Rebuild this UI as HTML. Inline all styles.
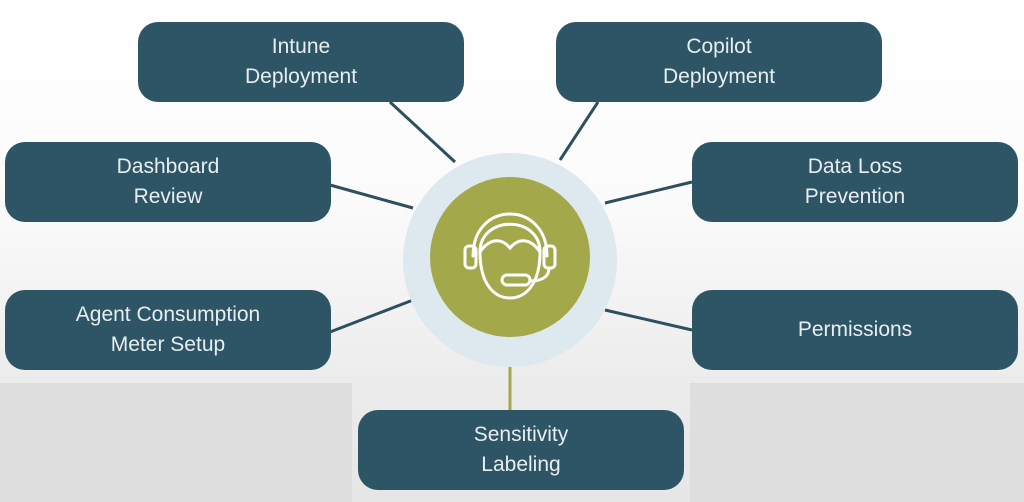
<!DOCTYPE html>
<html><head><style>
body{margin:0;width:1024px;height:502px;overflow:hidden;position:relative;font-family:"Liberation Sans",sans-serif;
background:linear-gradient(#ffffff 0px,#fbfbfb 200px,#ececec 380px,#e6e6e6 502px);}
.bg{position:absolute;top:383px;height:119px;background:#dedede}
.box{position:absolute;width:326px;height:80px;background:#2d5566;border-radius:20px;color:#e8eef0;font-size:21px;line-height:30px;display:flex;align-items:center;justify-content:center;text-align:center}
</style></head><body>
<div class="bg" style="left:0;width:352px"></div>
<div class="bg" style="left:690px;width:334px"></div>
<svg width="1024" height="502" style="position:absolute;left:0;top:0">
<g stroke="#2d4f5e" stroke-width="3">
<line x1="390" y1="102" x2="455" y2="162"/>
<line x1="598" y1="102" x2="560" y2="160"/>
<line x1="330" y1="185" x2="413" y2="208"/>
<line x1="692" y1="182" x2="605" y2="203"/>
<line x1="330" y1="332" x2="413" y2="300"/>
<line x1="692" y1="330" x2="605" y2="310"/>
</g>
<line x1="510" y1="360" x2="510" y2="410" stroke="#a3a84a" stroke-width="3"/>
<circle cx="510" cy="260" r="107" fill="#dde9ee"/>
<circle cx="510" cy="257" r="80" fill="#a3a84a"/>
<g fill="none" stroke="#fff" stroke-width="3" stroke-linecap="round">
<path d="M473 256 C473 200 547 200 547 256"/>
<rect x="465" y="246" width="11" height="22" rx="4"/>
<rect x="544" y="246" width="11" height="22" rx="4"/>
<path d="M480 252 C480 215 540 215 540 252 C532 240 520 236 510 248 C500 236 488 240 480 252"/>
<path d="M480 252 C480 285 495 298 510 298 C525 298 540 285 540 252"/>
<path d="M549 268 C549 278 540 281 530 281"/>
<rect x="502" y="275" width="28" height="10" rx="5"/>
</g>
</svg>
<div class="box" style="left:138px;top:22px">Intune<br>Deployment</div>
<div class="box" style="left:556px;top:22px">Copilot<br>Deployment</div>
<div class="box" style="left:5px;top:142px">Dashboard<br>Review</div>
<div class="box" style="left:692px;top:142px">Data Loss<br>Prevention</div>
<div class="box" style="left:5px;top:290px">Agent Consumption<br>Meter Setup</div>
<div class="box" style="left:692px;top:290px">Permissions</div>
<div class="box" style="left:358px;top:410px">Sensitivity<br>Labeling</div>
</body></html>
